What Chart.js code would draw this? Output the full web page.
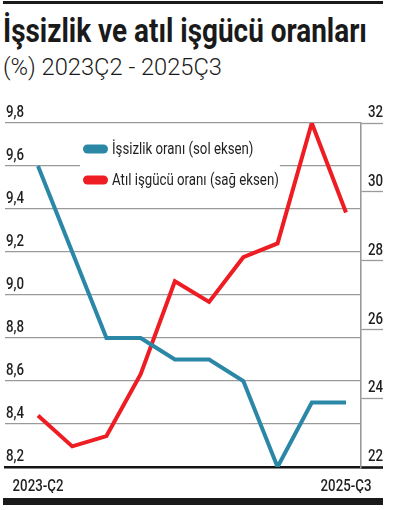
<!DOCTYPE html>
<html>
<head>
<meta charset="utf-8">
<script src="https://cdn.jsdelivr.net/npm/chart.js@4/dist/chart.umd.min.js"></script>
<style>
  html,body{margin:0;padding:0;background:#fff;}
  #wrap{position:relative;width:393px;height:510px;overflow:hidden;}
  #topbar{position:absolute;left:3px;top:1px;width:380px;height:3px;background:#1a1a1a;}
  #botbar{position:absolute;left:3px;top:498px;width:380px;height:7px;background:#1a1a1a;}
  #title{position:absolute;left:3px;top:11px;font-family:'Roboto',sans-serif;font-weight:bold;font-size:33px;color:#1a1a1a;white-space:nowrap;line-height:40px;transform-origin:0 0;}
  #sub{position:absolute;left:3px;top:53px;font-family:'Roboto','Liberation Sans',sans-serif;font-weight:300;font-size:23px;color:#1a1a1a;white-space:nowrap;line-height:30px;transform-origin:0 0;}
  canvas{position:absolute;left:0;top:0;}
</style>
</head>
<body>
<div id="wrap">
  <div id="topbar"></div>
  <div id="title">İşsizlik ve atıl işgücü oranları</div>
  <div id="sub">(%) 2023Ç2 - 2025Ç3</div>
  <canvas id="c" width="393" height="510"></canvas>
  <div id="botbar"></div>
</div>
<script>
const categories = ['2023-Ç2','2023-Ç3','2023-Ç4','2024-Ç1','2024-Ç2','2024-Ç3','2024-Ç4','2025-Ç1','2025-Ç2','2025-Ç3'];
const unemployment = [9.6, 9.2, 8.8, 8.8, 8.7, 8.7, 8.6, 8.2, 8.5, 8.5];
const underutilization = [23.5, 22.6, 22.9, 24.7, 27.4, 26.8, 28.1, 28.5, 32.0, 29.4];
const seriesNames = ['İşsizlik oranı (sol eksen)', 'Atıl işgücü oranı (sağ eksen)'];
const leftTicks = [8.2, 8.4, 8.6, 8.8, 9.0, 9.2, 9.4, 9.6, 9.8];
const rightTicks = [22, 24, 26, 28, 30, 32];
const shownXLabels = [0, 9];

const BLUE = '#2B87A6', RED = '#EE1D24';
const FONT = "'Roboto',sans-serif";
const K = 0.78; // horizontal condensing of canvas text

(function(){
  const t = document.getElementById('title');
  t.style.transform = 'scaleX(' + (364 / t.getBoundingClientRect().width) + ')';
  const s = document.getElementById('sub');
  s.style.transform = 'scaleX(' + (219 / s.getBoundingClientRect().width) + ')';
})();

const canvas = document.getElementById('c');
const ctx0 = canvas.getContext('2d');
const origFill = CanvasRenderingContext2D.prototype.fillText;
ctx0.fillText = function(t, x, y, mw) {
  this.save();
  this.translate(x, y);
  this.scale(K, 1);
  if (mw !== undefined) origFill.call(this, t, 0, 0, mw / K); else origFill.call(this, t, 0, 0);
  this.restore();
};

const legendPlugin = {
  id: 'boxLegend',
  beforeDatasetsDraw(chart) {
    const ctx = chart.ctx;
    const x0 = 80, y0 = 137;
    ctx.save();
    ctx.font = "17px " + FONT;
    let maxW = 0;
    chart.data.datasets.forEach(d => { maxW = Math.max(maxW, ctx.measureText(d.label).width * K); });
    ctx.fillStyle = '#fff';
    ctx.fillRect(x0, y0, 32 + maxW + 1, 60);
    chart.data.datasets.forEach((d, i) => {
      const y = 149 + i * 31;
      ctx.strokeStyle = d.borderColor;
      ctx.lineWidth = 9;
      ctx.lineCap = 'round';
      ctx.beginPath(); ctx.moveTo(87.5, y); ctx.lineTo(103.5, y); ctx.stroke();
      ctx.fillStyle = '#1e1e1e';
      ctx.textBaseline = 'middle';
      ctx.textAlign = 'left';
      ctx.fillText(d.label, 112, y + 1);
    });
    ctx.restore();
  }
};

new Chart(canvas, {
  type: 'line',
  data: {
    datasets: [
      { label: seriesNames[0], data: unemployment.map((v,i)=>({x:i,y:v})), yAxisID: 'yL',
        borderColor: BLUE, backgroundColor: BLUE, borderWidth: 4, pointRadius: 0, tension: 0,
        borderJoinStyle: 'miter', borderCapStyle: 'butt' },
      { label: seriesNames[1], data: underutilization.map((v,i)=>({x:i,y:v})), yAxisID: 'yR',
        borderColor: RED, backgroundColor: RED, borderWidth: 4, pointRadius: 0, tension: 0,
        borderJoinStyle: 'miter', borderCapStyle: 'butt' }
    ]
  },
  options: {
    responsive: false,
    animation: false,
    devicePixelRatio: 1,
    layout: { padding: { left: 5, top: 123, right: 10, bottom: 17 } },
    plugins: { legend: { display: false }, tooltip: { enabled: false } },
    scales: {
      x: {
        type: 'linear', min: -0.964, max: 9.438,
        grid: { display: false },
        border: { display: true, color: '#141414', width: 2.6 },
        afterBuildTicks: s => { s.ticks = shownXLabels.map(v => ({ value: v })); },
        afterFit: s => { s.height = 26; },
        ticks: { padding: 2, color: '#1e1e1e', font: { family: FONT, size: 17, weight: '500' },
                 callback: v => categories[v], maxRotation: 0, autoSkip: false }
      },
      yL: {
        position: 'left', min: 8.2, max: 9.8,
        afterBuildTicks: s => { s.ticks = leftTicks.map(v => ({ value: v })); },
        afterFit: s => { s.width = 0; },
        grid: { color: '#9a9a9a', lineWidth: 1.3, drawTicks: false },
        border: { display: false },
        ticks: { mirror: true, padding: 1, labelOffset: -10, color: '#1e1e1e',
                 font: { family: FONT, size: 17, weight: '500' },
                 callback: v => v.toFixed(1).replace('.', ',') }
      },
      yR: {
        position: 'right', min: 22, max: 32,
        afterBuildTicks: s => { s.ticks = rightTicks.map(v => ({ value: v })); },
        afterFit: s => { s.width = 22; },
        grid: { drawOnChartArea: false, drawTicks: true, tickLength: 22,
                tickColor: c => c.tick && c.tick.value === 22 ? '#141414' : '#9a9a9a',
                tickWidth: c => c.tick && c.tick.value === 22 ? 2.6 : 1.3 },
        border: { display: true, color: '#9a9a9a', width: 1.6 },
        ticks: { crossAlign: 'far', padding: 0, labelOffset: -10, color: '#1e1e1e',
                 font: { family: FONT, size: 17, weight: '500' },
                 callback: v => String(v) }
      }
    }
  },
  plugins: [legendPlugin]
});
</script>
</body>
</html>
